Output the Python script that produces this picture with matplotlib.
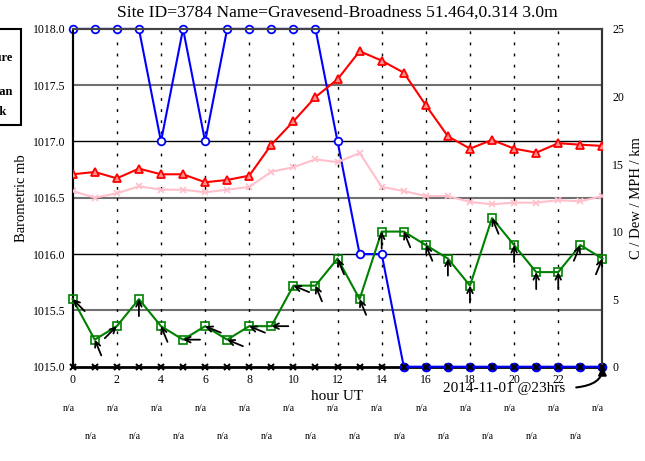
import numpy as np
import matplotlib
matplotlib.use('Agg')
import matplotlib.pyplot as plt
from matplotlib.patches import Rectangle

plt.rcParams['font.family'] = ['Liberation Serif', 'DejaVu Serif']

# hourly values, hours 0..24
hours = list(range(25))
pressure = [1018.0, 1018.0, 1018.0, 1018.0, 1017.0, 1018.0, 1017.0, 1018.0, 1018.0,
            1018.0, 1018.0, 1018.0, 1017.0, 1016.0, 1016.0, 1015.0, 1015.0, 1015.0,
            1015.0, 1015.0, 1015.0, 1015.0, 1015.0, 1015.0, 1015.0]
temp = [14.24, 14.41, 13.94, 14.66, 14.24, 14.24, 13.65, 13.82, 14.14, 16.43, 18.16,
        19.96, 21.27, 23.35, 22.65, 21.76, 19.35, 17.05, 16.14, 16.78, 16.14, 15.84,
        16.54, 16.43, 16.34]
dew = [13.0, 12.51, 12.83, 13.35, 13.10, 13.10, 12.91, 13.10, 13.30, 14.43, 14.76,
       15.35, 15.13, 15.82, 13.31, 13.0, 12.63, 12.63, 12.19, 12.02, 12.14, 12.14,
       12.32, 12.24, 12.63]
wind = [5, 2, 3, 5, 3, 2, 3, 2, 3, 3, 6, 6, 8, 5, 10, 10, 9, 8, 6, 11, 9, 7, 7, 9, 8]
wind_dir = [135, 157.5, 225, 180, 157.5, 90, 112.5, 112.5, 112.5, 90, 112.5, 157.5,
            157.5, 157.5, 180, 157.5, 157.5, 180, 180, 157.5, 180, 180, 180, 202.5, 202.5]
rain = [0] * 25

title = "Site ID=3784 Name=Gravesend-Broadness 51.464,0.314 3.0m"
stamp = "2014-11-01 @23hrs"

W, H = 645, 461
fig = plt.figure(figsize=(W / 100, H / 100), dpi=100)
ax = fig.add_axes([72.7 / W, 1 - 366.7 / H, (602.4 - 72.7) / W, (366.7 - 28.9) / H])
ax2 = ax.twinx()

ax.set_xlim(0, 24)
ax.set_ylim(1015.0, 1018.0)
ax2.set_ylim(0, 25)

# grid
for v in [1015.5, 1016.5, 1017.5]:
    ax.axhline(v, color='#707070', lw=1.5, zorder=1)
for v in [1016.0, 1017.0]:
    ax.axhline(v, color='black', lw=1.0, zorder=1)
for h in range(2, 24, 2):
    ax.axvline(h, color='black', lw=1.0, ls=(0, (2, 6)), zorder=1)

# rain base line and pressure
ax.plot(hours, [1015.0] * 25, color='black', lw=2, zorder=2, clip_on=False)
ax.plot(hours, pressure, color='#0000ff', lw=1.5, marker='o', ms=5.5, mfc='white',
        mec='#0000ff', mew=1.3, zorder=3, clip_on=False)
ax.plot(hours[15:], pressure[15:], ls='none', marker='o', ms=5.5, mfc='#0000aa',
        mec='#0000ff', mew=1.3, zorder=3.5, clip_on=False)
ax2.plot(hours, rain, ls='none', marker='x', ms=4.5, color='black', mew=1.5,
         zorder=5, clip_on=False)

ax2.plot(hours, dew, color='pink', lw=1.5, marker='x', ms=5, mew=1.2, zorder=3)
ax2.plot(hours, temp, color='red', lw=1.5, marker='^', ms=5.5, mfc='#ff9090',
         mec='red', mew=1.3, zorder=3)
ax2.plot(hours, wind, color='green', lw=1.5, marker='s', ms=5.5, mfc='none',
         mec='green', mew=1.2, zorder=3, clip_on=False)

L = 17
for h, w, d in zip(hours, wind, wind_dir):
    b = np.radians(d)
    ax2.annotate('', xy=(h, w), xytext=(L * np.sin(b), L * np.cos(b)),
                 textcoords='offset pixels', annotation_clip=False,
                 arrowprops=dict(arrowstyle='->', color='black', lw=1.3,
                                 shrinkA=0, shrinkB=0, mutation_scale=10), zorder=4)

ax.set_xticks(range(0, 24, 2))
ax.set_yticks(np.arange(1015.0, 1018.01, 0.5))
ax.set_yticklabels([f"{v:.1f}" for v in np.arange(1015.0, 1018.01, 0.5)])
ax2.set_yticks(range(0, 26, 5))
ax.tick_params(axis='x', length=0, pad=5, labelsize=8.5)
ax.tick_params(axis='y', length=0, pad=5, labelsize=8.5)
ax2.tick_params(axis='y', length=0, pad=7, labelsize=8.5)

for a in (ax, ax2):
    a.spines['left'].set_linewidth(1.5)
    a.spines['left'].set_color('black')
    a.spines['right'].set_linewidth(1.5)
    a.spines['right'].set_color('#333333')
    a.spines['top'].set_linewidth(1.5)
    a.spines['top'].set_color('#444444')
    a.spines['bottom'].set_visible(False)

ax.set_xlabel("hour UT", fontsize=11, labelpad=3)
ax.set_ylabel("Barometric mb", fontsize=10.5, labelpad=4)
ax2.set_ylabel("C / Dew / MPH / km", fontsize=10.5, labelpad=4)

fig.text(337 / W, 1 - 13 / H, title, ha='center', va='center', fontsize=12.6)

# n/a rows
for h in range(0, 25, 2):
    ax.text(h - 0.2, -0.125, 'n/a', transform=ax.get_xaxis_transform(),
            ha='center', va='center', fontsize=7)
for h in range(1, 24, 2):
    ax.text(h - 0.2, -0.208, 'n/a', transform=ax.get_xaxis_transform(),
            ha='center', va='center', fontsize=7)

ax2.annotate(stamp, xy=(24, 0), xytext=(504, H - 388), textcoords='figure pixels',
             ha='center', va='center', fontsize=11, annotation_clip=False,
             arrowprops=dict(arrowstyle='-|>', color='black', lw=1.5,
                             connectionstyle='angle3,angleA=0,angleB=90',
                             relpos=(1, 0.5), shrinkA=6, shrinkB=0,
                             mutation_scale=12), zorder=6)

# legend box, mostly off the left edge
fig.add_artist(Rectangle((-0.1, 1 - 125 / H), 0.1 + 21 / W, 96 / H,
                         transform=fig.transFigure, fill=False, ec='black', lw=1.5))
fig.text(13 / W, 1 - 57.7 / H, 'Temperature', ha='right', va='center',
         fontsize=9, fontweight='bold')
fig.text(13 / W, 1 - 91.7 / H, 'Mean', ha='right', va='center',
         fontsize=9, fontweight='bold')
fig.text(7 / W, 1 - 111.7 / H, 'Peak', ha='right', va='center',
         fontsize=9, fontweight='bold')

fig.savefig('out.png', dpi=100)
